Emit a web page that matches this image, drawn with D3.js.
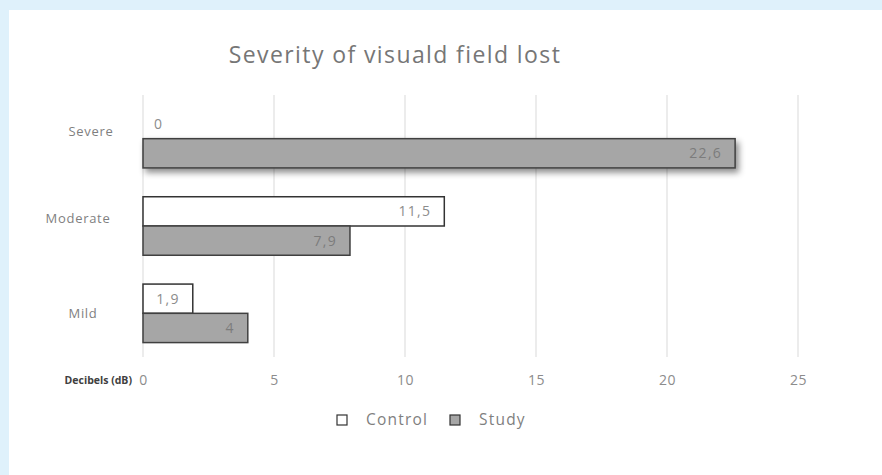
<!DOCTYPE html>
<html>
<head>
<meta charset="utf-8">
<script src="https://cdn.jsdelivr.net/npm/d3@7"></script>
<style>
  html, body { margin: 0; padding: 0; background: #dff1fb; }
  svg { display: block; }
  text { font-family: "Open Sans", sans-serif; }
</style>
</head>
<body>
<svg id="chart" width="882" height="475"></svg>
<script>
// Severity levels, top to bottom
const categories = ["Severe", "Moderate", "Mild"];
// Series
const seriesNames = ["Control", "Study"];
const controlValues = [0, 11.5, 1.9];
const studyValues = [22.6, 7.9, 4];
// Axis ticks
const tickValues = [0, 5, 10, 15, 20, 25];
// Bars that carry a drop shadow
const shadowedBars = [["Severe", "Study"]];

const FONT = "'Open Sans', sans-serif";
const svg = d3.select("#chart");
const W = 882, H = 475;

// white card
svg.append("rect").attr("x", 9).attr("y", 10).attr("width", W - 9).attr("height", H - 10).attr("fill", "#ffffff");

const defs = svg.append("defs");
const f = defs.append("filter").attr("id", "shadow").attr("x", "-10%").attr("y", "-50%").attr("width", "120%").attr("height", "220%");
f.append("feDropShadow").attr("dx", 3).attr("dy", 4).attr("stdDeviation", 3).attr("flood-color", "#000").attr("flood-opacity", 0.45);

const x = d3.scaleLinear().domain([0, 25]).range([143, 798]);
const y = d3.scaleBand().domain(categories).range([95, 357]).paddingInner(0.33).paddingOuter(0.165);
const ySub = d3.scaleBand().domain(seriesNames).range([0, y.bandwidth()]);

const fills = { Control: "#ffffff", Study: "#a6a6a6" };
const labelColor = { Control: "#8c8c8c", Study: "#7c7c7c" };
const fmt = v => String(v).replace(".", ",");

// title
svg.append("text").attr("x", 395).attr("y", 63).attr("text-anchor", "middle")
  .attr("font-size", 23).attr("letter-spacing", 1.4).attr("fill", "#767676")
  .text("Severity of visuald field lost");

// gridlines
svg.append("g").selectAll("line").data(tickValues).join("line")
  .attr("x1", d => x(d)).attr("x2", d => x(d))
  .attr("y1", 95).attr("y2", 357)
  .attr("stroke", "#d9d9d9").attr("stroke-width", 1);

// x axis tick labels
const xAxis = d3.axisBottom(x).tickValues(tickValues).tickSize(0).tickPadding(0).tickFormat(d3.format("d"));
const gx = svg.append("g").attr("transform", "translate(0,380)").call(xAxis);
gx.select(".domain").remove();
gx.selectAll("text").attr("font-size", 14).attr("fill", "#8c8c8c").attr("font-family", FONT)
  .attr("letter-spacing", 0.5).attr("dy", "0.35em");

svg.append("text").attr("x", 132).attr("y", 384).attr("text-anchor", "end")
  .attr("font-size", 10.5).attr("font-weight", "bold").attr("fill", "#404040").text("Decibels (dB)");

// category labels
const yAxis = d3.axisLeft(y).tickSize(0).tickPadding(0);
const gy = svg.append("g").call(yAxis);
gy.select(".domain").remove();
gy.selectAll("text").attr("x", 83).attr("text-anchor", "middle").attr("font-size", 13)
  .attr("letter-spacing", 0.7).attr("fill", "#7f7f7f").attr("font-family", FONT);
gy.selectAll(".tick").filter(d => d === "Severe").select("text").attr("x", 91).attr("dy", "-0.2em");
gy.selectAll(".tick").filter(d => d === "Moderate").select("text").attr("x", 78).attr("dy", "-0.2em");

// bars
const rows = [];
categories.forEach((c, i) => {
  rows.push({ cat: c, series: "Control", value: controlValues[i] });
  rows.push({ cat: c, series: "Study", value: studyValues[i] });
});
const isShadowed = d => shadowedBars.some(s => s[0] === d.cat && s[1] === d.series);

svg.append("g").selectAll("rect").data(rows.filter(d => d.value > 0)).join("rect")
  .attr("x", x(0))
  .attr("y", d => y(d.cat) + ySub(d.series))
  .attr("width", d => x(d.value) - x(0))
  .attr("height", ySub.bandwidth())
  .attr("fill", d => fills[d.series])
  .attr("stroke", d => d.series === "Study" ? "#404040" : "#333333")
  .attr("stroke-width", 1.5)
  .attr("filter", d => isShadowed(d) ? "url(#shadow)" : null);

// value labels
svg.append("g").selectAll("text").data(rows).join("text")
  .attr("x", d => d.value === 0 ? x(0) + 11 : x(d.value) - 13)
  .attr("y", d => y(d.cat) + ySub(d.series) + ySub.bandwidth() / 2)
  .attr("dy", "0.35em")
  .attr("text-anchor", d => d.value === 0 ? "start" : "end")
  .attr("font-size", 14)
  .attr("letter-spacing", 1.3)
  .attr("fill", d => labelColor[d.series])
  .text(d => fmt(d.value));

// legend
const legend = svg.append("g").attr("transform", "translate(337,420)");
const legendX = [0, 113];
seriesNames.forEach((s, i) => {
  const g = legend.append("g").attr("transform", `translate(${legendX[i]},0)`);
  g.append("rect").attr("x", 0).attr("y", -5).attr("width", 10).attr("height", 10)
    .attr("fill", fills[s]).attr("stroke", "#333").attr("stroke-width", 1.2);
  g.append("text").attr("x", 29).attr("y", 0).attr("dy", "0.35em")
    .attr("font-size", 15.5).attr("letter-spacing", 1.2).attr("fill", "#7f7f7f").text(s);
});
</script>
</body>
</html>
